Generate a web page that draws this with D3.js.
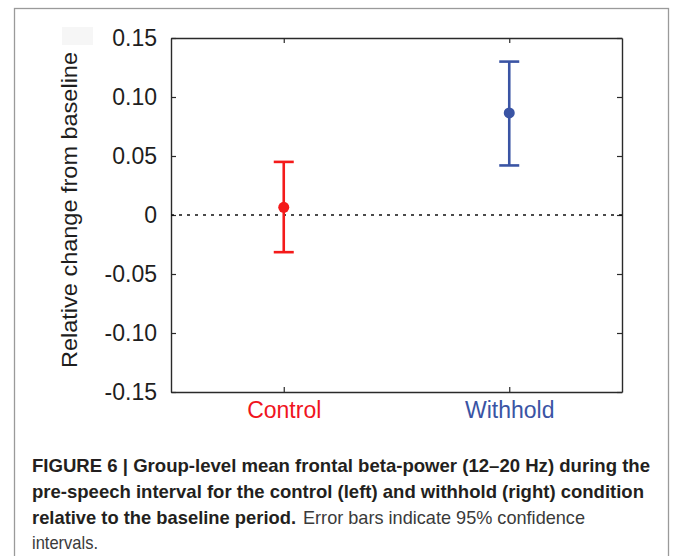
<!DOCTYPE html>
<html>
<head>
<meta charset="utf-8">
<script src="https://cdn.jsdelivr.net/npm/d3@7"></script>
<style>
  html, body { margin: 0; padding: 0; background: #ffffff; }
  svg { display: block; }
  text { font-family: "Liberation Sans", Arial, Helvetica, sans-serif; }
</style>
</head>
<body>
<svg id="chart" width="673" height="556"></svg>
<script>
// ---- data ----
const categories = ["Control", "Withhold"];
const means = [0.0065, 0.0865];
const lowerCI = [-0.0315, 0.042];
const upperCI = [0.045, 0.130];
const yTicks = [-0.15, -0.10, -0.05, 0, 0.05, 0.10, 0.15];
const yTickLabels = ["-0.15", "-0.10", "-0.05", "0", "0.05", "0.10", "0.15"];
const yLabel = "Relative change from baseline";
const captionBold1 = "FIGURE 6 | Group-level mean frontal beta-power (12\u201320 Hz) during the";
const captionBold2 = "pre-speech interval for the control (left) and withhold (right) condition";
const captionBold3 = "relative to the baseline period.";
const captionNormal3 = "Error bars indicate 95% confidence";
const captionNormal4 = "intervals.";

// ---- styles ----
const seriesColors = ["#f41a1a", "#3a54a4"];
const labelColors = ["#f0141e", "#3a54a4"];

const svg = d3.select("#chart");

// outer frame
svg.append("rect")
  .attr("x", 14.5).attr("y", 8.5)
  .attr("width", 654).attr("height", 560)
  .attr("fill", "none").attr("stroke", "#9a9a9a").attr("stroke-width", 1.3);

// faint artifact box
svg.append("rect")
  .attr("x", 62).attr("y", 27).attr("width", 31).attr("height", 18)
  .attr("fill", "#f6f6f6");

const plot = { left: 171, right: 622, top: 38, bottom: 392 };

const x = d3.scalePoint().domain(categories)
  .range([plot.left, plot.right]).padding(0.5);
const y = d3.scaleLinear().domain([-0.15, 0.15])
  .range([plot.bottom, plot.top]);

const fmt = v => yTickLabels[yTicks.indexOf(v)];

// left axis
const gL = svg.append("g").attr("transform", `translate(${plot.left},0)`)
  .call(d3.axisLeft(y).tickValues(yTicks).tickFormat(fmt).tickSize(-5).tickSizeOuter(0).tickPadding(14));
// right axis
const gR = svg.append("g").attr("transform", `translate(${plot.right},0)`)
  .call(d3.axisRight(y).tickValues(yTicks).tickFormat("").tickSize(-5).tickSizeOuter(0));
// bottom axis
const gB = svg.append("g").attr("transform", `translate(0,${plot.bottom})`)
  .call(d3.axisBottom(x).tickSize(-5).tickSizeOuter(0).tickPadding(10));
// top axis
const gT = svg.append("g").attr("transform", `translate(0,${plot.top})`)
  .call(d3.axisTop(x).tickFormat("").tickSize(-5).tickSizeOuter(0));

[gL, gR, gB, gT].forEach(g => {
  g.selectAll(".domain").attr("stroke", "#2a2a2a").attr("stroke-width", 1.4);
  g.selectAll(".tick line").attr("stroke", "#2a2a2a").attr("stroke-width", 1.2);
});

gL.selectAll(".tick text")
  .attr("font-size", 23).attr("fill", "#1e1e1e")
  .style("font-family", "'Liberation Sans', Arial, sans-serif");

gB.selectAll(".tick text")
  .attr("font-size", 23)
  .attr("fill", (d, i) => labelColors[i])
  .style("font-family", "'Liberation Sans', Arial, sans-serif");

// y label
svg.append("text")
  .attr("transform", "translate(77,210) rotate(-90)")
  .attr("text-anchor", "middle")
  .attr("font-size", 22)
  .attr("fill", "#1e1e1e")
  .attr("textLength", 316)
  .attr("lengthAdjust", "spacingAndGlyphs")
  .text(yLabel);

// zero line
svg.append("line")
  .attr("x1", plot.left).attr("x2", plot.right)
  .attr("y1", y(0)).attr("y2", y(0))
  .attr("stroke", "#111").attr("stroke-width", 1.4)
  .attr("stroke-dasharray", "3,5");

// error bars
const capHalf = 10;
const groups = svg.append("g").selectAll("g")
  .data(categories.map((c, i) => ({ c, m: means[i], lo: lowerCI[i], hi: upperCI[i], col: seriesColors[i] })))
  .join("g");

groups.append("line")
  .attr("x1", d => x(d.c)).attr("x2", d => x(d.c))
  .attr("y1", d => y(d.lo)).attr("y2", d => y(d.hi))
  .attr("stroke", d => d.col).attr("stroke-width", 2.6);
groups.append("line")
  .attr("x1", d => x(d.c) - capHalf).attr("x2", d => x(d.c) + capHalf)
  .attr("y1", d => y(d.hi)).attr("y2", d => y(d.hi))
  .attr("stroke", d => d.col).attr("stroke-width", 2.6);
groups.append("line")
  .attr("x1", d => x(d.c) - capHalf).attr("x2", d => x(d.c) + capHalf)
  .attr("y1", d => y(d.lo)).attr("y2", d => y(d.lo))
  .attr("stroke", d => d.col).attr("stroke-width", 2.6);
groups.append("circle")
  .attr("cx", d => x(d.c)).attr("cy", d => y(d.m))
  .attr("r", 5.5).attr("fill", d => d.col);

// caption
const cap = svg.append("g").attr("font-size", 18.5);
cap.append("text").attr("x", 32).attr("y", 472)
  .attr("font-weight", "bold").attr("fill", "#231f20")
  .attr("textLength", 618).attr("lengthAdjust", "spacingAndGlyphs")
  .text(captionBold1);
cap.append("text").attr("x", 32).attr("y", 498)
  .attr("font-weight", "bold").attr("fill", "#231f20")
  .attr("textLength", 612).attr("lengthAdjust", "spacingAndGlyphs")
  .text(captionBold2);
cap.append("text").attr("x", 32).attr("y", 524)
  .attr("font-weight", "bold").attr("fill", "#231f20")
  .attr("textLength", 264).attr("lengthAdjust", "spacingAndGlyphs")
  .text(captionBold3);
cap.append("text").attr("x", 303).attr("y", 524)
  .attr("fill", "#3a3a3a")
  .attr("textLength", 282).attr("lengthAdjust", "spacingAndGlyphs")
  .text(captionNormal3);
cap.append("text").attr("x", 32).attr("y", 549)
  .attr("fill", "#3a3a3a")
  .attr("textLength", 66).attr("lengthAdjust", "spacingAndGlyphs")
  .text(captionNormal4);
</script>
</body>
</html>
